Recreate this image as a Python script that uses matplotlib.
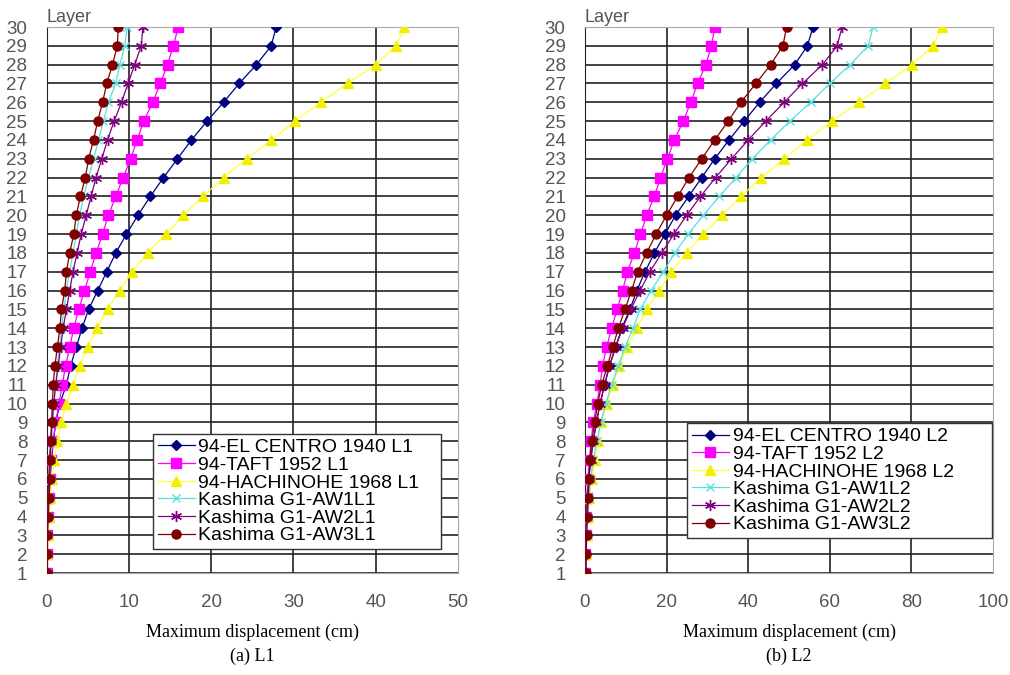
import numpy as np
import matplotlib
matplotlib.use('Agg')
import matplotlib.pyplot as plt

layers = list(range(1, 31))

# L1 results (layer 1 -> 30), cm
el_centro_l1 = [0, 0.05, 0.1, 0.2, 0.3, 0.4, 0.6, 0.8, 1.1, 1.6, 2.4, 2.9, 3.6, 4.3, 5.1,
                6.2, 7.3, 8.4, 9.7, 11.1, 12.6, 14.2, 15.9, 17.6, 19.5, 21.5, 23.4, 25.5, 27.3, 27.9]
taft_l1 = [0, 0.05, 0.1, 0.2, 0.3, 0.4, 0.5, 0.8, 1.1, 1.5, 1.9, 2.3, 2.8, 3.3, 3.9,
           4.6, 5.3, 6.0, 6.8, 7.5, 8.4, 9.3, 10.2, 11.0, 11.8, 12.9, 13.8, 14.7, 15.4, 16.0]
hachinohe_l1 = [0, 0.1, 0.2, 0.3, 0.4, 0.6, 0.9, 1.3, 1.8, 2.4, 3.2, 4.0, 5.0, 6.1, 7.4,
                8.9, 10.4, 12.3, 14.5, 16.6, 19.0, 21.5, 24.3, 27.3, 30.2, 33.3, 36.6, 40.0, 42.5, 43.5]
aw1_l1 = [0, 0.05, 0.1, 0.15, 0.25, 0.35, 0.45, 0.6, 0.75, 0.9, 1.1, 1.3, 1.55, 1.8, 2.1,
          2.4, 2.8, 3.2, 3.6, 4.0, 4.5, 5.1, 5.7, 6.3, 6.9, 7.5, 8.4, 8.9, 9.5, 9.8]
aw2_l1 = [0, 0.02, 0.05, 0.1, 0.15, 0.25, 0.35, 0.5, 0.65, 0.85, 1.1, 1.4, 1.7, 2.0, 2.4,
          2.8, 3.2, 3.7, 4.2, 4.8, 5.4, 6.0, 6.7, 7.4, 8.2, 9.1, 9.9, 10.7, 11.5, 11.7]
aw3_l1 = [0.1, 0.1, 0.1, 0.2, 0.3, 0.4, 0.4, 0.5, 0.6, 0.7, 0.8, 1.0, 1.3, 1.6, 1.8,
          2.2, 2.4, 2.8, 3.3, 3.6, 4.1, 4.7, 5.1, 5.7, 6.2, 6.8, 7.3, 8.0, 8.6, 8.7]

# L2 results (layer 1 -> 30), cm
el_centro_l2 = [0, 0.1, 0.2, 0.4, 0.6, 0.9, 1.4, 2.0, 2.8, 3.7, 4.8, 6.0, 7.5, 9.0, 11.0,
                12.7, 14.7, 17.0, 19.6, 22.2, 25.4, 28.6, 31.8, 35.3, 39.0, 42.8, 46.9, 51.4, 54.5, 55.9]
taft_l2 = [0, 0.05, 0.15, 0.3, 0.45, 0.7, 1.1, 1.5, 2.0, 2.9, 3.7, 4.3, 5.3, 6.5, 7.9,
           9.2, 10.4, 12.1, 13.6, 15.1, 17.0, 18.5, 20.2, 21.9, 24.1, 25.9, 27.6, 29.6, 31.0, 31.8]
hachinohe_l2 = [0, 0.2, 0.4, 0.7, 1.1, 1.6, 2.4, 3.1, 3.9, 5.3, 6.8, 8.4, 10.2, 12.7, 15.1,
                18.2, 21.2, 24.9, 29.0, 33.5, 38.2, 43.2, 48.8, 54.5, 60.5, 67.1, 73.6, 80.2, 85.3, 87.5]
aw1_l2 = [0, 0.1, 0.3, 0.6, 1.0, 1.4, 2.0, 2.9, 3.9, 5.1, 6.5, 8.2, 9.8, 11.8, 13.5,
          16.2, 19.2, 22.0, 25.3, 29.0, 32.9, 37.0, 41.0, 45.5, 50.2, 55.3, 60.0, 65.0, 69.4, 70.6]
aw2_l2 = [0, 0.1, 0.2, 0.4, 0.6, 0.9, 1.4, 2.0, 2.8, 3.7, 4.8, 6.0, 7.5, 9.2, 11.2,
          13.5, 15.9, 18.8, 21.8, 24.9, 28.3, 32.0, 35.9, 40.0, 44.3, 48.8, 53.3, 58.2, 61.8, 63.0]
aw3_l2 = [0.3, 0.3, 0.4, 0.6, 0.8, 1.0, 1.2, 1.6, 2.4, 3.1, 4.1, 5.5, 6.8, 8.2, 9.8,
          11.4, 12.9, 15.1, 17.4, 20.0, 22.7, 25.5, 28.6, 31.8, 35.1, 38.2, 41.9, 45.5, 48.5, 49.4]

names_l1 = ['94-EL CENTRO 1940 L1', '94-TAFT 1952 L1', '94-HACHINOHE 1968 L1',
            'Kashima G1-AW1L1', 'Kashima G1-AW2L1', 'Kashima G1-AW3L1']
names_l2 = ['94-EL CENTRO 1940 L2', '94-TAFT 1952 L2', '94-HACHINOHE 1968 L2',
            'Kashima G1-AW1L2', 'Kashima G1-AW2L2', 'Kashima G1-AW3L2']

xticks_l1 = [0, 10, 20, 30, 40, 50]
xticks_l2 = [0, 20, 40, 60, 80, 100]

styles = [
    dict(color='#000080', marker='D', ms=5),
    dict(color='#ff00ff', marker='s', ms=6.5),
    dict(color='#ffff33', marker='^', ms=6.5, mfc='#f0f000', mec='#f0f000'),
    dict(color='#55e0e0', marker='x', ms=6),
    dict(color='#800080', marker=(6, 2, 0), ms=8),
    dict(color='#800000', marker='o', ms=6.5),
]

SANS = ['Liberation Sans', 'DejaVu Sans']
SERIF = ['Liberation Serif', 'DejaVu Serif']


def draw_panel(ax, series, names, xticks, legend_box, xlabel, caption):
    for vals, name, st in zip(series, names, styles):
        ax.plot(vals, layers, lw=0.9, label=name, zorder=3, **st)

    ax.set_xlim(xticks[0], xticks[-1])
    ax.set_ylim(1, 30)
    ax.set_xticks(xticks)
    ax.set_yticks(layers)
    ax.tick_params(length=0, labelsize=13.5, colors='#555555', labelfontfamily=SANS)
    ax.tick_params(axis='y', pad=14)
    ax.tick_params(axis='x', pad=15)

    for y in layers:
        ax.axhline(y, color='#222222', lw=1.2, zorder=1)
    for x in xticks[:-1]:
        ax.axvline(x, color='#222222', lw=1.2, zorder=1)
    for s in ['top', 'bottom', 'right']:
        ax.spines[s].set_color('#aaaaaa')
    ax.spines['left'].set_color('#222222')

    ax.text(0, 1.002, 'Layer', transform=ax.transAxes, ha='left', va='bottom',
            fontsize=13, color='#555555', family=SANS)

    leg = ax.legend(loc='upper left', bbox_to_anchor=legend_box, mode='expand',
                    fancybox=False, framealpha=1, edgecolor='#333333',
                    prop={'family': SANS, 'size': 14}, labelspacing=0.0,
                    handlelength=1.9, handletextpad=0.2, borderpad=0.25,
                    borderaxespad=0)
    leg.get_frame().set_linewidth(1.0)
    leg.set_zorder(5)

    ax.text(0.5, -0.108, xlabel, transform=ax.transAxes, ha='center', va='center',
            fontsize=13, family=SERIF)
    ax.text(0.5, -0.152, caption, transform=ax.transAxes, ha='center', va='center',
            fontsize=13, family=SERIF)


fig = plt.figure(figsize=(10.1, 6.75), dpi=100)
ax1 = fig.add_axes([0.0462, 0.151, 0.4072, 0.809])
ax2 = fig.add_axes([0.5792, 0.151, 0.404, 0.809])

draw_panel(ax1, [el_centro_l1, taft_l1, hachinohe_l1, aw1_l1, aw2_l1, aw3_l1],
           names_l1, xticks_l1, (0.258, 0.037, 0.702, 0.218),
           'Maximum displacement (cm)', '(a) L1')
draw_panel(ax2, [el_centro_l2, taft_l2, hachinohe_l2, aw1_l2, aw2_l2, aw3_l2],
           names_l2, xticks_l2, (0.25, 0.059, 0.748, 0.216),
           'Maximum displacement (cm)', '(b) L2')

plt.savefig('out.png', dpi=100)
